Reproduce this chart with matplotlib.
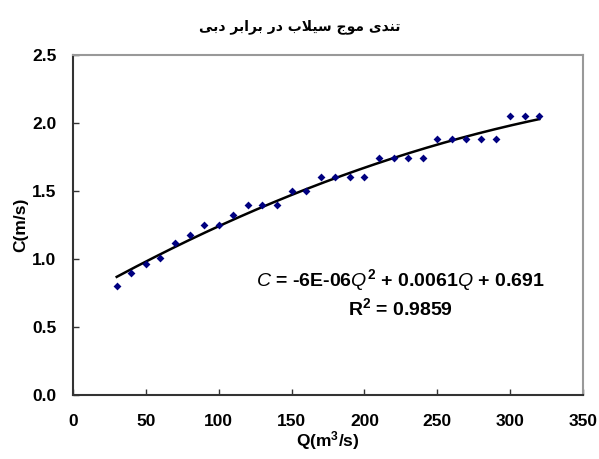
import numpy as np
import matplotlib
matplotlib.use("Agg")
import matplotlib.pyplot as plt

plt.rcParams['font.family'] = ['Liberation Sans', 'DejaVu Sans']
plt.rcParams['mathtext.fontset'] = 'custom'
plt.rcParams['mathtext.it'] = 'Liberation Sans:italic'
plt.rcParams['mathtext.rm'] = 'Liberation Sans:bold'
plt.rcParams['mathtext.bf'] = 'Liberation Sans:bold'

# دبی (m3/s) و تندی موج (m/s)
Q = [30, 40, 50, 60, 70, 80, 90, 100, 110, 120, 130, 140, 150, 160, 170,
     180, 190, 200, 210, 220, 230, 240, 250, 260, 270, 280, 290, 300, 310, 320]
C = [0.80, 0.90, 0.96, 1.01, 1.12, 1.18, 1.25, 1.25, 1.32, 1.40, 1.40, 1.40,
     1.50, 1.50, 1.60, 1.60, 1.60, 1.60, 1.74, 1.74, 1.74, 1.74, 1.88, 1.88,
     1.88, 1.88, 1.88, 2.05, 2.05, 2.05]

# ضرایب خط روند (درجه ۲)
coef = [-6e-06, 0.0061, 0.691]

xticks = [0, 50, 100, 150, 200, 250, 300, 350]
yticks = [0.0, 0.5, 1.0, 1.5, 2.0, 2.5]

# عنوان فارسی با اشکال نمایشی (matplotlib شکل‌دهی عربی ندارد)
title_logical = ("\uFE97\uFEE8\uFEAA\uFEEF" + " " +
                 "\uFEE3\uFEEE\uFE9D" + " " +
                 "\uFEB3\uFEF4\uFEFC\uFE8F" + " " +
                 "\uFEA9\uFEAD" + " " +
                 "\uFE91\uFEAE\uFE8D\uFE91\uFEAE" + " " +
                 "\uFEA9\uFE91\uFEF0")
title = title_logical[::-1]

fig = plt.figure(figsize=(5.99, 4.59), dpi=100)
ax = fig.add_axes([73/599, 64/459, 510/599, 340/459])

ax.scatter(Q, C, marker='D', s=16, color='#000080', zorder=3, linewidths=0)
qq = np.linspace(min(Q), max(Q), 200)
ax.plot(qq, np.polyval(coef, qq), color='black', lw=1.8, zorder=2)

ax.set_xlim(0, 350)
ax.set_ylim(0, 2.5)
ax.set_xticks(xticks)
ax.set_yticks(yticks)
ax.set_yticklabels([f"{v:.1f}" for v in yticks])
ax.tick_params(direction='in', length=4, width=1, color='#333333',
               labelsize=12.5, pad=12, top=False, right=False)
for lab in ax.get_xticklabels() + ax.get_yticklabels():
    lab.set_fontweight('bold')
ax.tick_params(axis='x', pad=14)

for s in ['left', 'bottom']:
    ax.spines[s].set_color('#333333')
    ax.spines[s].set_linewidth(1.5)
for s in ['top', 'right']:
    ax.spines[s].set_color('#999999')
    ax.spines[s].set_linewidth(1.5)

ax.set_xlabel(r"Q(m$^{\mathrm{3}}$/s)", fontsize=12.5, fontweight='bold', labelpad=0)
ax.set_ylabel("C(m/s)", fontsize=12.5, fontweight='bold', labelpad=3)

fig.text(0.5, 1 - 27/459, title, ha='center', va='center', fontsize=10,
         fontweight='bold', family=['DejaVu Sans'])

eq = (r"$\mathit{C}$ = -6E-06$\mathit{Q}^{\mathrm{2}}$ + 0.0061$\mathit{Q}$ + 0.691"
      "\n" r"R$^{\mathrm{2}}$ = 0.9859")
ax.text(0.642, 0.30, eq, transform=ax.transAxes, ha='center', va='center',
        fontsize=14, fontweight='bold', linespacing=1.2)

fig.savefig("out.png", dpi=100)
